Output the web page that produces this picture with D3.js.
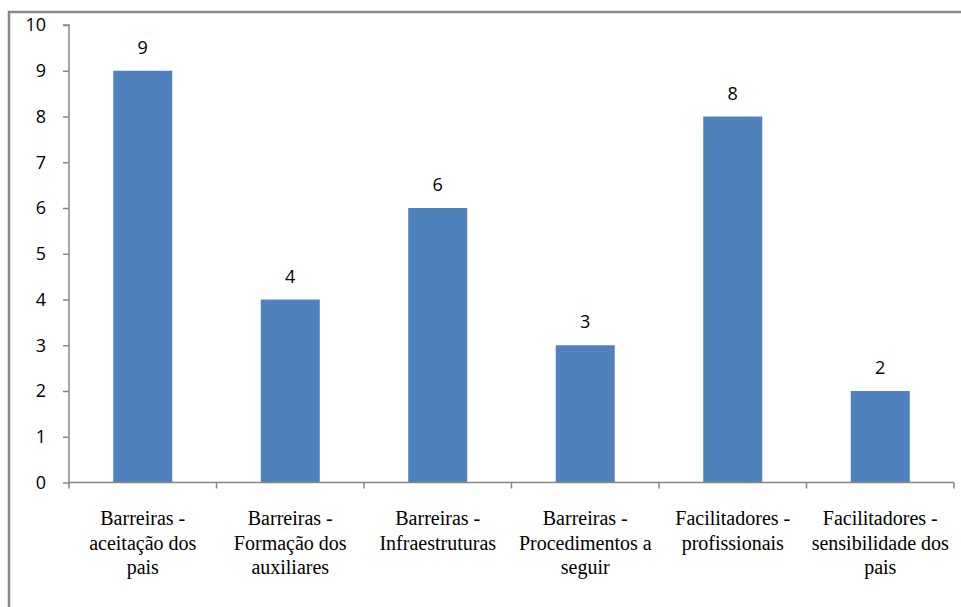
<!DOCTYPE html>
<html><head><meta charset="utf-8">
<script src="https://cdn.jsdelivr.net/npm/d3@7"></script>
<style>html,body{margin:0;padding:0;background:#fff;}svg{display:block;}</style>
</head><body>
<svg id="c" width="961" height="607"></svg>
<script>
const categories = [
  ["Barreiras -", "aceitação dos", "pais"],
  ["Barreiras -", "Formação dos", "auxiliares"],
  ["Barreiras -", "Infraestruturas"],
  ["Barreiras -", "Procedimentos a", "seguir"],
  ["Facilitadores -", "profissionais"],
  ["Facilitadores -", "sensibilidade dos", "pais"]
];
const values = [9, 4, 6, 3, 8, 2];
const yTicks = [0,1,2,3,4,5,6,7,8,9,10];

(function(){
const svg = d3.select("#c");
const pL = 69, pR = 954, pT = 25, pB = 482.5;
const ids = categories.map((c,i)=>i);

// outer border (cut off at right and bottom)
svg.append("path").attr("d","M9,607 V12 H961").attr("fill","none").attr("stroke","#888").attr("stroke-width",2.5);

const x = d3.scaleBand().domain(ids).range([pL,pR]).paddingInner(0.6).paddingOuter(0.3);
const y = d3.scaleLinear().domain([0,10]).range([pB,pT]);

// y axis
const yAxis = d3.axisLeft(y).tickValues(yTicks).tickSize(6).tickPadding(17).tickFormat(d3.format("d"));
const gy = svg.append("g").attr("transform",`translate(${pL},0)`).call(yAxis);
gy.select(".domain").attr("stroke","#868686").attr("stroke-width",1.5).attr("d",`M-6,${pT}H0V${pB}`);
gy.selectAll(".tick line").attr("stroke","#868686").attr("stroke-width",1.5);
gy.selectAll(".tick text").attr("font-family","'Open Sans', sans-serif").attr("font-size",18).attr("fill","#000");

// bars
svg.selectAll("rect.bar").data(values).join("rect").attr("class","bar")
  .attr("x",(d,i)=>x(i)).attr("width",x.bandwidth())
  .attr("y",d=>y(d)).attr("height",d=>y(0)-y(d))
  .attr("fill","#4F81BD");

// x axis line
svg.append("line").attr("x1",pL).attr("x2",pR).attr("y1",pB).attr("y2",pB).attr("stroke","#868686").attr("stroke-width",1.5);
// category boundary ticks
const step = x.step();
svg.selectAll("line.xt").data(d3.range(categories.length+1)).join("line").attr("class","xt")
  .attr("x1",i=>pL+i*step).attr("x2",i=>pL+i*step).attr("y1",pB).attr("y2",pB+6)
  .attr("stroke","#868686").attr("stroke-width",1.5);

// data labels
svg.selectAll("text.lbl").data(values).join("text").attr("class","lbl")
  .attr("x",(d,i)=>x(i)+x.bandwidth()/2).attr("y",d=>y(d)-17)
  .attr("text-anchor","middle").attr("font-family","'Open Sans', sans-serif").attr("font-size",18).attr("fill","#000")
  .text(d=>d);

// category labels
const cl = svg.selectAll("text.cat").data(categories).join("text").attr("class","cat")
  .attr("text-anchor","middle").attr("font-family","'Liberation Serif', 'Times New Roman', serif").attr("font-size",20).attr("fill","#000");
cl.each(function(lines,i){
  const t = d3.select(this);
  lines.forEach((ln,j)=>{
    t.append("tspan").attr("x",x(i)+x.bandwidth()/2).attr("y",525+j*24.5).text(ln);
  });
});
})();
</script>
</body></html>
